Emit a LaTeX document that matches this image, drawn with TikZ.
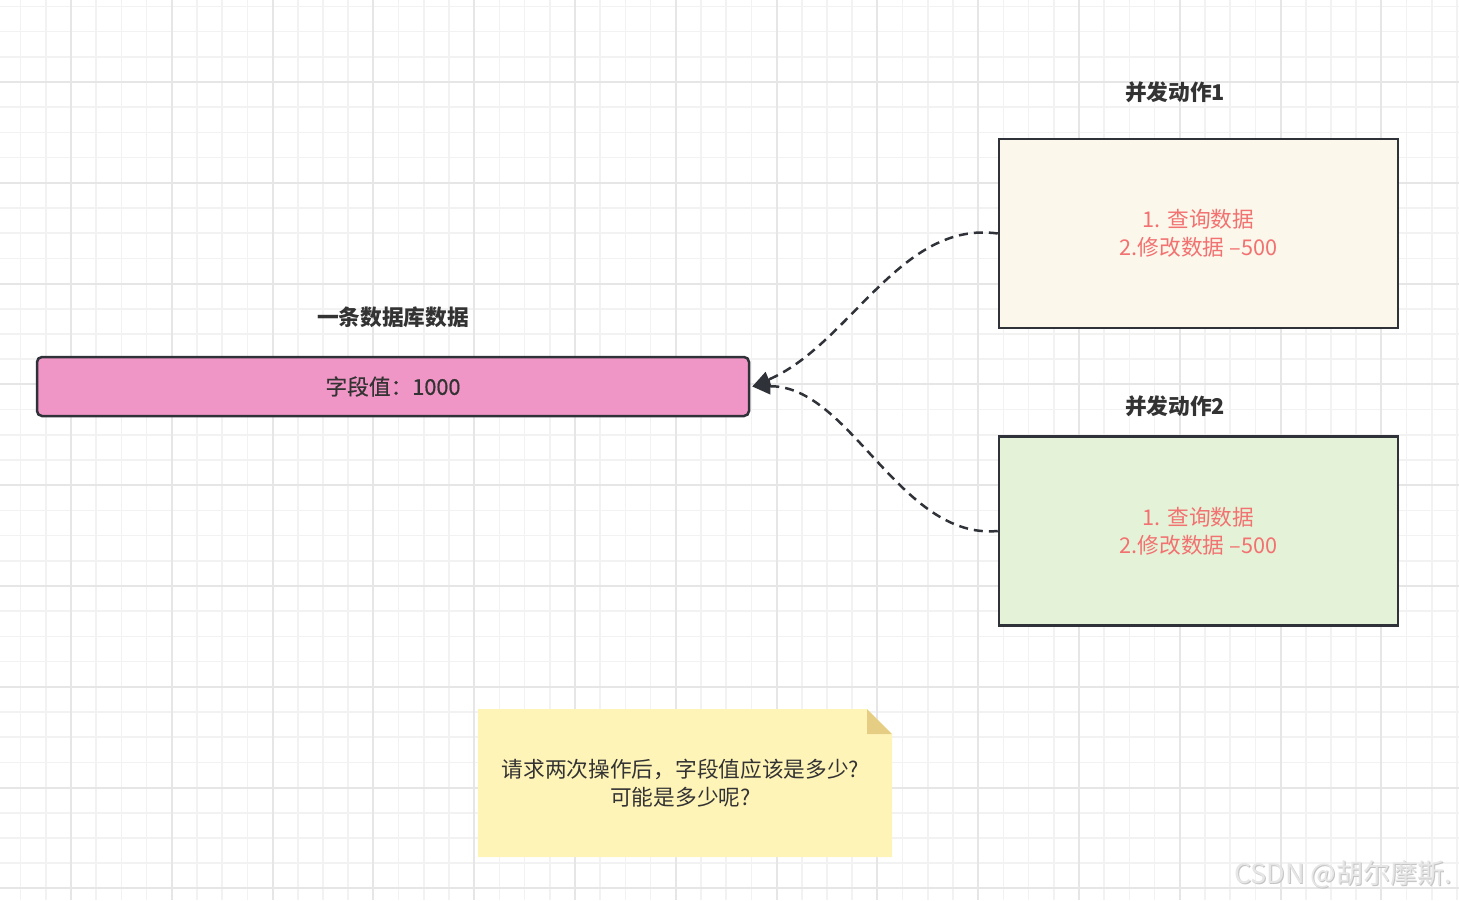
\documentclass[tikz,border=0pt]{standalone}
\usepackage{fontspec}
\setmainfont{Noto Sans CJK SC}
\newfontfamily\semibfont{Noto Sans CJK SC}[FakeBold=0.5]
\usetikzlibrary{arrows.meta}
\definecolor{minorc}{HTML}{F2F2F2}
\definecolor{majorc}{HTML}{E6E6E6}
\definecolor{inkc}{HTML}{2F3238}
\definecolor{textc}{HTML}{333333}
\definecolor{pinkc}{HTML}{F096C6}
\definecolor{creamc}{HTML}{FBF7EA}
\definecolor{greenc}{HTML}{E4F3D7}
\definecolor{redc}{HTML}{F27171}
\definecolor{notec}{HTML}{FFF4B8}
\definecolor{foldc}{HTML}{E5CD83}
\definecolor{wmc}{HTML}{E6E6E6}
\definecolor{wmsh}{HTML}{C4C4C4}
\tikzset{
  minorgrid/.style={draw=minorc, line width=1.5pt},
  majorgrid/.style={draw=majorc, line width=2pt},
  txt/.style={font=\fontsize{21.7}{28}\selectfont, text=textc, align=center, inner sep=0pt},
  title/.style={txt, font=\fontsize{21.7}{28}\selectfont\bfseries},
  actbox/.style={draw=inkc, line width=2.5pt, minimum width=399pt, minimum height=189pt,
     font=\fontsize{21.7}{28}\selectfont, text=redc, align=center, inner sep=0pt},
  dashlink/.style={draw=inkc, line width=2.5pt, dash pattern=on 9pt off 6pt,
     -{Triangle[length=18pt,width=16pt]}}
}
\begin{document}
\begin{tikzpicture}[x=1pt,y=-1pt]
\useasboundingbox (0,0) rectangle (1459,900);
\fill[white] (0,0) rectangle (1459,900);
% grid
\foreach \k in {-3,...,55} { \draw[minorgrid] ({71+25.2*\k},0) -- ({71+25.2*\k},900); }
\foreach \k in {-3,...,32} { \draw[minorgrid] (0,{82+25.2*\k}) -- (1459,{82+25.2*\k}); }
\foreach \k in {0,...,13} { \draw[majorgrid] ({71+100.8*\k},0) -- ({71+100.8*\k},900); }
\foreach \k in {0,...,8} { \draw[majorgrid] (0,{82+100.8*\k}) -- (1459,{82+100.8*\k}); }

% database record
\node[title] (dbtitle) at (393,317) {一条数据库数据};
\node[draw=inkc, line width=2.5pt, fill=pinkc, rounded corners=5pt,
      minimum width=712pt, minimum height=59pt, txt, font=\fontsize{21.7}{28}\semibfont] (db) at (393,386.5) {字段值：1000};

% concurrent actions
\node[title] (a1title) at (1175,92) {并发动作1};
\node[actbox, fill=creamc] (a1) at (1198.5,233.5) {1. 查询数据\\2.修改数据 –500};
\node[title] (a2title) at (1175,406) {并发动作2};
\node[actbox, fill=greenc] (a2) at (1198.5,531) {1. 查询数据\\2.修改数据 –500};

% connectors
\draw[dashlink] (a1.west) .. controls (900,220) and (850,345) .. ([xshift=2pt]db.east);
\draw[dashlink] (a2.west) .. controls (900,540) and (850,385) .. ([xshift=2pt]db.east);

% note
\fill[notec] (478,709) -- (867,709) -- (892,734) -- (892,857) -- (478,857) -- cycle;
\fill[foldc] (867,709) -- (867,734) -- (892,734) -- cycle;
\node[txt] (note) at (680.5,783) {请求两次操作后，字段值应该是多少?\\可能是多少呢?};

% watermark
\node[font=\fontsize{27}{30}\selectfont, text=wmsh, anchor=east, inner sep=0pt] (wmshadow) at (1453,875) {CSDN @胡尔摩斯.};
\node[font=\fontsize{27}{30}\selectfont, text=wmc, anchor=east, inner sep=0pt] (wm) at (1452,874) {CSDN @胡尔摩斯.};
\end{tikzpicture}
\end{document}
